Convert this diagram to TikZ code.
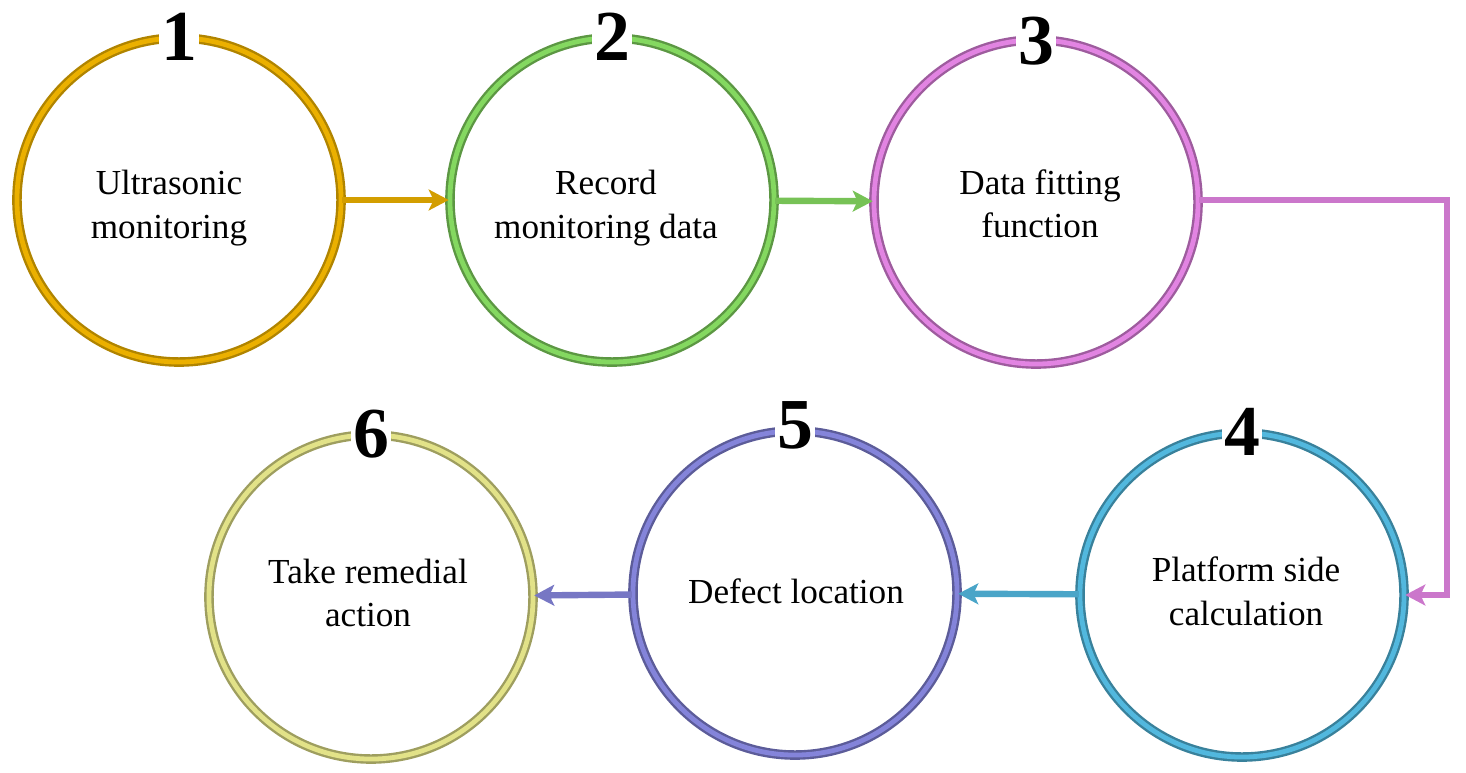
\documentclass[tikz,border=0pt]{standalone}
\usepackage{fontspec}
\setmainfont{Liberation Serif}
\usetikzlibrary{arrows.meta,positioning}

\definecolor{ringgold}{HTML}{EBB000}
\definecolor{ringgreen}{HTML}{84D860}
\definecolor{ringpink}{HTML}{E284E2}
\definecolor{ringcyan}{HTML}{52B8DE}
\definecolor{ringblue}{HTML}{8484DA}
\definecolor{ringyellow}{HTML}{E2E288}

\begin{document}
\begin{tikzpicture}[x=0.025cm,y=-0.025cm,>={Stealth[length=0.5cm,width=0.52cm,inset=0.12cm]}]
  \tikzstyle{stage}=[circle,minimum size=8.1cm,inner sep=0pt,
                     line width=1.7pt,double distance=3.4pt]
  \tikzstyle{stage text}=[align=center,inner sep=0pt,
                     font=\fontsize{25}{31}\selectfont]
  \tikzstyle{stage number}=[fill=white,inner sep=1.5pt,
                     font=\fontsize{51}{51}\selectfont\bfseries]
  \tikzstyle{link}=[->,line width=0.16cm]
  \useasboundingbox (0,0) rectangle (1466,773);

  % top row
  \node [stage,draw=ringgold!75!black,double=ringgold] (monitor) at (179,200) {};
  \node [stage,draw=ringgreen!70!black,double=ringgreen] (record) at (612,200) {};
  \node [stage,draw=ringpink!70!black,double=ringpink] (fitting) at (1036,202) {};

  % bottom row
  \node [stage,draw=ringcyan!70!black,double=ringcyan] (platform) at (1242,595) {};
  \node [stage,draw=ringblue!70!black,double=ringblue] (defect) at (795,593) {};
  \node [stage,draw=ringyellow!70!black,double=ringyellow] (remedy) at (371,597) {};

  % texts
  \node [stage text] (t1) at (169,208) {Ultrasonic\\monitoring};
  \node [stage text] (t2) at (606,208) {Record\\monitoring data};
  \node [stage text] (t3) at (1040,204) {Data fitting\\function};
  \node [stage text] (t4) at (1246,591) {Platform side\\calculation};
  \node [stage text] (t5) at (796,591) {Defect location};
  \node [stage text] (t6) at (368,593) {Take remedial\\action};

  % step numbers
  \node [stage number] (n1) at (monitor.north) {1};
  \node [stage number] (n2) at (record.north) {2};
  \node [stage number] (n3) at ([yshift=-0.05cm]fitting.north) {3};
  \node [stage number] (n4) at (platform.north) {4};
  \node [stage number] (n5) at ([yshift=0.1cm]defect.north) {5};
  \node [stage number] (n6) at (remedy.north) {6};

  % connectors
  \coordinate (turn) at (1447,200);
  \draw [link,ringgold!90!black] (monitor) -- (record);
  \draw [link,ringgreen!90!black] (record) -- (fitting);
  \draw [link,ringpink!90!black] (fitting.east |- turn) -- (turn) |- (platform.east);
  \draw [link,ringcyan!90!black] (platform) -- (defect);
  \draw [link,ringblue!90!black] (defect) -- (remedy);
\end{tikzpicture}
\end{document}
